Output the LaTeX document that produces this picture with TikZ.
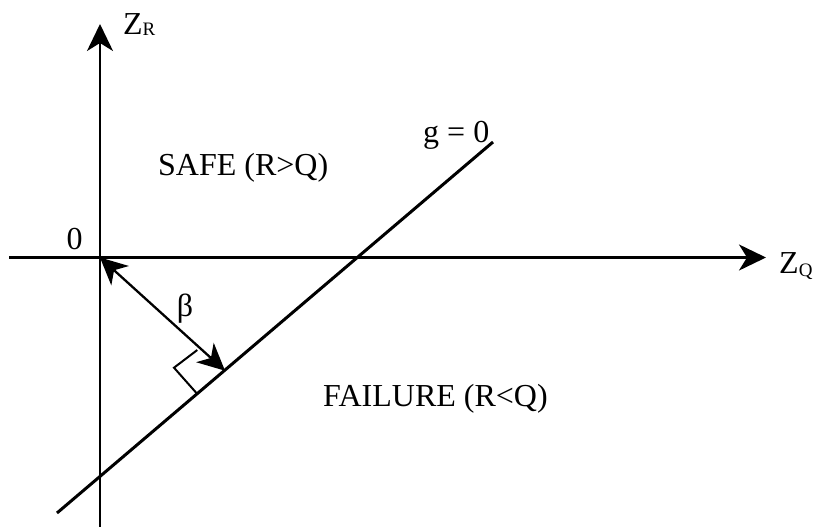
\documentclass[tikz,border=0pt]{standalone}
\usepackage{fontspec}
\setmainfont{Liberation Serif}
\usetikzlibrary{arrows.meta}
\tikzset{
  axis/.style={line width=2.3pt,-{Stealth[length=27pt,width=26pt,inset=8pt]}},
  gline/.style={line width=3pt},
  betaarrow/.style={line width=2.3pt,{Stealth[length=27pt,width=26pt,inset=8pt]}-{Stealth[length=27pt,width=26pt,inset=8pt]}},
  marker/.style={line width=2pt},
  lbl/.style={inner sep=0pt,font=\fontsize{32}{38}\selectfont}
}
\begin{document}
\begin{tikzpicture}[x=1pt,y=-1pt]
\useasboundingbox (0,0) rectangle (814,527);
\coordinate (O) at (100,257.5);
\coordinate (ytop) at (100,24);
\coordinate (ybot) at (100,527);
\coordinate (xleft) at (9,257.5);
\coordinate (xright) at (766,257.5);
\coordinate (gA) at (57,513);
\coordinate (gB) at (493,142);
\coordinate (foot) at (225,370.7);
\coordinate (m1) at (196.7,393.3);
\coordinate (m2) at (174,367.7);
\coordinate (m3) at (197.3,350);
\draw[axis] (ybot) -- (ytop);
\draw[axis] (xleft) -- (xright);
\draw[gline] (gA) -- (gB);
\draw[betaarrow] (O) -- (foot);
\draw[marker] (m1) -- (m2) -- (m3);
\node[lbl,anchor=base west] (zr) at (123,35) {Z\raisebox{-1pt}{\fontsize{19}{20}\selectfont R}};
\node[lbl,anchor=base west] (zq) at (779,273) {Z\raisebox{-3pt}{\fontsize{19}{20}\selectfont Q}};
\node[lbl,anchor=base west] (safe) at (158,175) {SAFE (R>Q)};
\node[lbl,anchor=base west] (fail) at (323,406.7) {FAILURE (R<Q)};
\node[lbl,anchor=base west] (g0) at (423,142) {g = 0};
\node[lbl] (zero) at (74.7,239) {0};
\node[lbl] (beta) at (185,309) {β};
\end{tikzpicture}
\end{document}
